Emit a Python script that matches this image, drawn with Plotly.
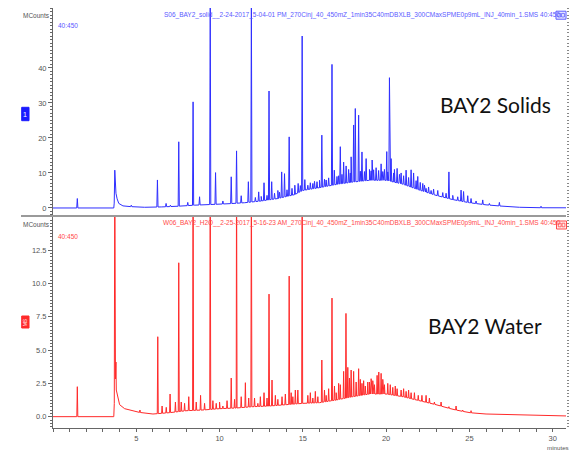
import numpy as np
import plotly.graph_objects as go

# ---------------- data ----------------
# Solids chromatogram: baseline points (minutes, MCounts)
solid_base_t = [0, 3.65, 3.74, 3.78, 3.85, 3.95, 4.2, 4.6, 5.5, 6.5, 7.5, 8.5, 9.5, 10.5, 11.5,
                12.5, 13.5, 14.5, 15.0, 16.0, 17.0, 18.0, 19.0, 20.0, 21.0, 22.0, 23.0, 24.0,
                25.0, 26.0, 27.0, 28.0, 29.5, 31.0]
solid_base_y = [0.0, 0.0, 5.0, 4.2, 2.6, 1.3, 0.6, 0.4, 0.2, 0.3, 0.5, 0.8, 1.0, 1.2, 1.5,
                2.0, 2.7, 3.8, 5.0, 5.8, 6.7, 7.4, 7.9, 7.9, 6.8, 5.1, 3.6, 2.4,
                1.5, 0.9, 0.5, 0.2, 0.05, 0.05]
# Solids: peak apex values
solid_peak_t = [1.46, 3.71, 4.7, 6.27, 6.79, 7.05, 7.55, 8.09, 8.41, 8.8, 9.44, 9.76, 10.2, 10.7,
                11.02, 11.3, 11.73, 11.91, 12.35, 12.67, 12.97, 13.13, 13.5, 13.73, 13.9, 14.18,
                14.52, 14.72, 14.96, 15.12, 15.3, 15.6, 15.85, 16.14, 16.4, 16.75, 16.89, 17.05,
                17.25, 17.45, 17.6, 17.75, 17.9, 18.05, 18.15, 18.35, 18.55, 18.8, 19.0, 19.16,
                19.4, 19.7, 19.9, 20.04, 20.2, 20.3, 20.5, 20.66, 20.9, 21.2, 21.5, 21.65, 21.9,
                22.2, 22.4, 22.7, 23.77, 24.5, 24.65, 24.9, 25.1, 25.8, 26.8, 29.3]
solid_peak_y = [2.7, 10.8, 0.8, 8.0, 1.3, 0.8, 18.9, 1.6, 30.3, 3.2, 60.0, 10.1, 2.0, 8.9,
                16.3, 3.5, 7.5, 60.0, 4.6, 7.2, 33.4, 7.5, 5.0, 10.3, 9.8, 20.3,
                6.5, 7.0, 49.1, 8.1, 6.5, 7.0, 7.5, 20.8, 8.0, 41.0, 10.8, 9.0,
                17.5, 13.1, 12.0, 11.0, 14.6, 23.7, 28.4, 26.5, 16.0, 14.1, 11.0, 13.7,
                11.5, 12.6, 11.0, 16.1, 37.2, 14.1, 11.0, 11.3, 10.0, 10.8, 10.9, 10.0, 9.0,
                7.0, 5.6, 5.0, 10.3, 5.1, 4.7, 3.5, 2.7, 2.3, 1.6, 0.5]
# Solids: small noise spikes (apex values)
solid_minor_t = [12.15, 12.5, 12.85, 13.3, 13.6, 14.05, 14.35, 14.85, 15.45, 15.7, 16.0, 16.3,
                 16.55, 17.15, 17.35, 17.85, 18.45, 18.7, 19.1, 19.25, 19.55, 19.8, 20.1, 20.45,
                 20.8, 21.05, 21.35, 21.8, 22.05, 22.3, 22.55, 22.85, 23.1, 23.4, 23.6, 24.0,
                 24.3, 25.4, 26.2]
solid_minor_y = [3.0, 3.3, 3.6, 4.2, 4.5, 5.2, 5.6, 6.4, 7.2, 7.6, 7.9, 8.2,
                 8.6, 9.2, 9.6, 10.0, 10.5, 10.4, 10.6, 10.9, 10.7, 10.4, 10.3, 10.0,
                 9.6, 9.2, 8.7, 7.8, 7.3, 6.5, 6.0, 5.4, 5.0, 4.4, 4.2, 3.6,
                 3.2, 2.0, 1.3]

# Water chromatogram
water_base_t = [0, 3.65, 3.74, 3.8, 3.9, 4.0, 4.3, 5.0, 6.0, 7.0, 8.0, 9.0, 10.0, 11.0, 12.0,
                13.0, 14.0, 15.0, 16.0, 17.0, 18.0, 19.0, 20.0, 21.0, 22.0, 23.0, 24.0, 25.0,
                26.0, 28.0, 31.0]
water_base_y = [0.0, 0.0, 3.0, 2.0, 1.3, 0.9, 0.6, 0.35, 0.2, 0.3, 0.45, 0.5, 0.6, 0.65, 0.75,
                0.8, 0.9, 1.0, 1.05, 1.25, 1.5, 1.7, 1.7, 1.5, 1.2, 0.9, 0.55, 0.3,
                0.2, 0.15, 0.05]
water_peak_t = [1.46, 3.71, 3.78, 5.22, 6.29, 6.8, 7.03, 7.35, 7.55, 7.7, 8.15, 8.41, 8.86, 9.44,
                9.8, 10.2, 10.7, 11.02, 11.3, 11.55, 11.91, 12.3, 12.67, 12.97, 13.15, 13.5,
                13.75, 14.18, 14.4, 14.7, 14.96, 15.3, 15.6, 15.9, 16.14, 16.4, 16.75, 17.0,
                17.25, 17.45, 17.59, 17.7, 17.9, 18.05, 18.2, 18.35, 18.55, 18.75, 18.9, 19.1,
                19.3, 19.46, 19.56, 19.7, 19.9, 20.1, 20.4, 20.66, 20.9, 21.2, 21.5, 21.93,
                22.4, 22.9, 23.77, 24.6]
water_peak_y = [2.25, 20.0, 4.1, 0.5, 6.0, 0.7, 1.7, 1.1, 11.55, 1.1, 1.5, 20.0, 1.6, 20.0,
                1.0, 0.8, 2.9, 20.0, 1.5, 2.55, 20.0, 1.0, 1.8, 9.2, 2.75, 1.3,
                1.5, 10.55, 1.5, 2.0, 20.0, 1.6, 1.4, 1.5, 4.25, 1.6, 8.9, 1.8,
                2.4, 3.4, 7.75, 3.7, 3.5, 3.4, 2.6, 3.6, 2.5, 2.3, 2.6, 2.85,
                2.4, 3.1, 3.35, 3.25, 2.4, 2.5, 2.2, 2.1, 2.0, 1.9, 1.8, 1.6,
                1.6, 1.1, 0.75, 0.5]
water_minor_t = [6.55, 7.9, 8.6, 9.1, 9.6, 10.0, 10.45, 10.9, 11.75, 12.1, 12.45, 12.85, 13.35,
                 13.95, 14.3, 14.55, 15.45, 15.75, 16.3, 16.55, 16.9, 17.15, 17.8, 18.45, 18.65,
                 19.0, 19.2, 19.8, 20.25, 20.55, 21.05, 21.35, 21.7, 22.15, 22.6, 23.3, 24.2, 25.1]
water_minor_y = [0.8, 1.0, 1.1, 1.0, 1.2, 1.1, 1.2, 1.3, 1.4, 1.4, 1.5, 1.4, 1.6,
                 1.7, 1.8, 2.0, 1.8, 1.9, 2.0, 2.1, 2.3, 2.5, 2.9, 2.8, 2.7,
                 2.6, 2.7, 2.8, 2.4, 2.3, 2.1, 2.0, 1.8, 1.6, 1.4, 1.1, 0.8, 0.45]

x_tick_vals = [5, 10, 15, 20, 25, 30]
top_tick_vals = [0, 10, 20, 30, 40]
bot_tick_vals = [0, 2.5, 5, 7.5, 10, 12.5]
bot_tick_text = ["0.0", "2.5", "5.0", "7.5", "10.0", "12.5"]

header_top = "S06_BAY2_solid__2-24-2017_5-04-01 PM_270Cinj_40_450mZ_1min35C40mDBXLB_300CMaxSPME0p9mL_INJ_40min_1.SMS 40:450"
header_bot = "W06_BAY2_H2O__2-25-2017_5-16-23 AM_270Cinj_40_450mZ_1min35C40mDBXLB_300CMaxSPME0p9mL_INJ_40min_1.SMS 40:450"


def build(bt, by, pt_lists, w=0.035):
    bt = np.asarray(bt, float)
    by = np.asarray(by, float)
    xs = list(bt)
    ys = list(by)
    for pts, pys in pt_lists:
        for t, h in zip(pts, pys):
            xs += [t - w, t, t + w]
            ys += [float(np.interp(t - w, bt, by)), h, float(np.interp(t + w, bt, by))]
    xs = np.asarray(xs)
    ys = np.asarray(ys)
    o = np.argsort(xs, kind="stable")
    return xs[o], ys[o]


sx, sy = build(solid_base_t, solid_base_y, [(solid_peak_t, solid_peak_y), (solid_minor_t, solid_minor_y)])
wx, wy = build(water_base_t, water_base_y, [(water_peak_t, water_peak_y), (water_minor_t, water_minor_y)], w=0.03)

BLUE = "#2f2fff"
RED = "#ff2a2a"
GRAY = "#666666"
SANS = "Liberation Sans, Arial, sans-serif"

fig = go.Figure()
fig.add_trace(go.Scatter(x=sx, y=sy, mode="lines", line=dict(color=BLUE, width=1),
                         xaxis="x", yaxis="y", showlegend=False, hoverinfo="skip"))
fig.add_trace(go.Scatter(x=wx, y=wy, mode="lines", line=dict(color=RED, width=1),
                         xaxis="x", yaxis="y2", showlegend=False, hoverinfo="skip"))
# invisible traces to carry the right-hand tick columns
fig.add_trace(go.Scatter(x=[0], y=[0], mode="markers", marker=dict(opacity=0), xaxis="x", yaxis="y3",
                         showlegend=False, hoverinfo="skip"))
fig.add_trace(go.Scatter(x=[0], y=[0], mode="markers", marker=dict(opacity=0), xaxis="x", yaxis="y4",
                         showlegend=False, hoverinfo="skip"))

L, R, T, B = 53, 12, 8, 25
W, H = 578, 453
pw, ph = W - L - R, H - T - B


def px(x):
    return (x - L) / pw


def py(y):
    return (H - B - y) / ph


split = py(216)
top_rng = [-2.29, 57.1]
bot_rng = [-0.85, 15.06]

tickfont = dict(family=SANS, size=7.5, color="#555555")

fig.update_layout(
    width=W, height=H, autosize=False,
    margin=dict(l=L, r=R, t=T, b=B),
    paper_bgcolor="white", plot_bgcolor="white",
    xaxis=dict(domain=[0, 1], anchor="y2", range=[0, 30.8], showgrid=False, zeroline=False,
               showline=True, linecolor=GRAY, linewidth=1, ticks="outside", ticklen=3,
               tickcolor=GRAY, tickvals=x_tick_vals, tickfont=tickfont,
               minor=dict(dtick=1, tick0=0, ticks="outside", ticklen=3, tickcolor=GRAY)),
    yaxis=dict(domain=[split, 1], anchor="x", range=top_rng, showgrid=False, zeroline=False,
               showline=True, linecolor=GRAY, linewidth=1, ticks="outside", ticklen=4,
               tickcolor=GRAY, tickvals=top_tick_vals, tickfont=tickfont,
               minor=dict(dtick=1, tick0=0, ticks="outside", ticklen=2, tickcolor=GRAY)),
    yaxis2=dict(domain=[0, split], anchor="x", range=bot_rng, showgrid=False, zeroline=False,
                showline=True, linecolor=GRAY, linewidth=1, ticks="outside", ticklen=4,
                tickcolor=GRAY, tickvals=bot_tick_vals, ticktext=bot_tick_text, tickfont=tickfont,
                minor=dict(dtick=0.25, tick0=0, ticks="outside", ticklen=2, tickcolor=GRAY)),
    yaxis3=dict(overlaying="y", side="right", anchor="x", range=top_rng, showgrid=False,
                zeroline=False, showline=False, showticklabels=False, ticks="outside", ticklen=2,
                tickcolor="#888888", dtick=1, tick0=0),
    yaxis4=dict(overlaying="y2", side="right", anchor="x", range=bot_rng, showgrid=False,
                zeroline=False, showline=False, showticklabels=False, ticks="outside", ticklen=2,
                tickcolor="#888888", dtick=0.25, tick0=0),
)

ann = []


def add(text, x, y, xa="left", ya="middle", size=9, color="#555555", family=SANS, angle=0):
    ann.append(dict(text=text, x=px(x), y=py(y), xref="paper", yref="paper", xanchor=xa,
                    yanchor=ya, showarrow=False, textangle=angle,
                    font=dict(size=size, color=color, family=family)))


add("MCounts", 52, 15, xa="right", size=6.5)
add("MCounts", 52, 225, xa="right", size=6.5)
add("40:450", 55.5, 26, size=6.5, color="#5a5aff")
add("40:450", 55.5, 236, size=6.5, color="#ff4a4a")
add(header_top, 162, 15, size=6.5, color="#5a5aff")
add(header_bot, 161, 223, size=6.5, color="#ff4a4a")
add("BAY2 Solids", 495, 105, xa="center", size=21, color="#111111", family="Lato, Open Sans, sans-serif")
add("BAY2 Water", 485, 325, xa="center", size=21, color="#111111", family="Lato, Open Sans, sans-serif")
add("minutes", 558, 447.5, xa="center", size=6.2)
add("1", 25.3, 114, xa="center", size=7, color="white")
add("MS", 25.3, 322, xa="center", size=5, color="white", angle=-90)
fig.update_layout(annotations=ann)

shapes = [
    # divider between the two panels
    dict(type="line", xref="paper", yref="paper", x0=px(21), x1=px(566), y0=split, y1=split,
         line=dict(color="#9a9a9a", width=2)),
    # channel boxes
    dict(type="rect", xref="paper", yref="paper", x0=px(21.7), x1=px(29), y0=py(120.7), y1=py(107.3),
         fillcolor="#1a1aff", line=dict(color="#1a1aff", width=1)),
    dict(type="rect", xref="paper", yref="paper", x0=px(21.7), x1=px(29), y0=py(328), y1=py(316),
         fillcolor="#ff2a2a", line=dict(color="#ff2a2a", width=1)),
]
# small icons at the right of the headers (outer box + two glyph squares)
for (x0, y0, col, fill) in [(556, 11.2, "#5a5aff", "rgba(200,200,255,0.4)"),
                            (556.5, 221, "#ff4a4a", "rgba(255,210,210,0.4)")]:
    shapes.append(dict(type="rect", xref="paper", yref="paper", x0=px(x0), x1=px(x0 + 10),
                       y0=py(y0 + 8), y1=py(y0), fillcolor=fill, line=dict(color=col, width=1)))
    for dx in (1.8, 5.6):
        shapes.append(dict(type="rect", xref="paper", yref="paper", x0=px(x0 + dx), x1=px(x0 + dx + 2.8),
                           y0=py(y0 + 5.8), y1=py(y0 + 2.2), line=dict(color=col, width=0.8)))
fig.update_layout(shapes=shapes)

fig.write_html("out.html", config={"displayModeBar": False},
               post_script="document.body.style.margin='0';")
